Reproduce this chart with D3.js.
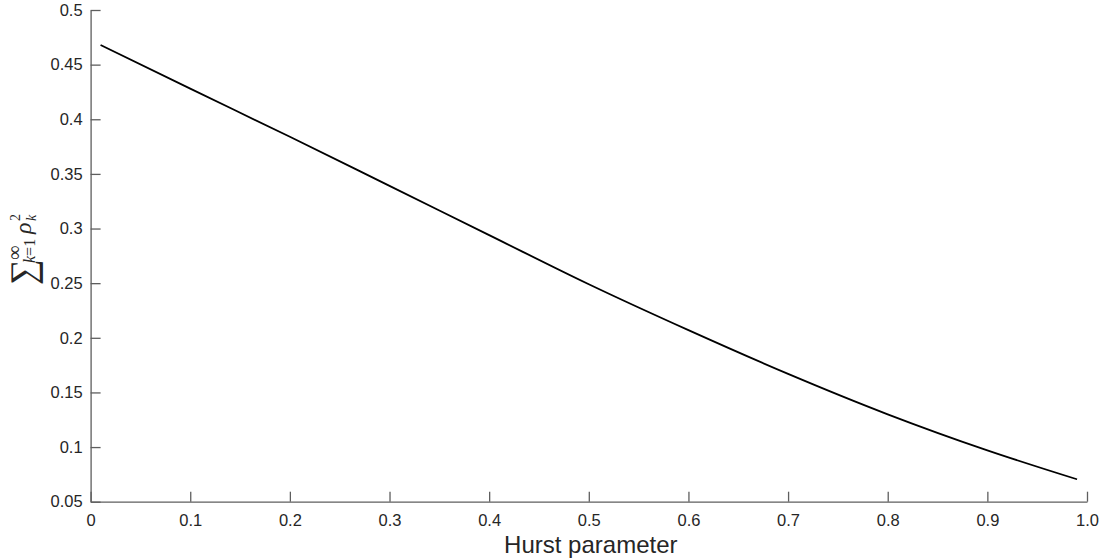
<!DOCTYPE html>
<html>
<head>
<meta charset="utf-8">
<script src="https://cdn.jsdelivr.net/npm/d3@7"></script>
<style>
  body { margin: 0; background: #fff; }
</style>
</head>
<body>
<div id="chart"></div>
<script>
// values
const hurst   = [0.01, 0.1, 0.2, 0.3, 0.4, 0.5, 0.6, 0.7, 0.8, 0.9, 0.99];
const sumRho2 = [0.468, 0.428, 0.384, 0.339, 0.294, 0.249, 0.207, 0.167, 0.130, 0.097, 0.0705];

const xTicks = [0, 0.1, 0.2, 0.3, 0.4, 0.5, 0.6, 0.7, 0.8, 0.9, 1.0];
const xTickLabels = ["0", "0.1", "0.2", "0.3", "0.4", "0.5", "0.6", "0.7", "0.8", "0.9", "1.0"];
const yTicks = [0.05, 0.1, 0.15, 0.2, 0.25, 0.3, 0.35, 0.4, 0.45, 0.5];
const yTickLabels = ["0.05", "0.1", "0.15", "0.2", "0.25", "0.3", "0.35", "0.4", "0.45", "0.5"];

const width = 1104, height = 559;
const margin = {top: 10, right: 17, bottom: 57.3, left: 90.6};

const svg = d3.select("#chart").append("svg")
  .attr("width", width).attr("height", height)
  .style("font-family", "'Liberation Sans', Arial, Helvetica, sans-serif");

const x = d3.scaleLinear()
  .domain([0, 1])
  .range([margin.left, width - margin.right]);

const y = d3.scaleLinear()
  .domain([0.05, 0.5])
  .range([height - margin.bottom, margin.top]);

const tickFont = 16.5;

// bottom axis, ticks pointing inward
svg.append("g")
  .attr("transform", `translate(0,${height - margin.bottom})`)
  .call(d3.axisBottom(x).tickValues(xTicks)
    .tickFormat((d, i) => xTickLabels[i])
    .tickSize(-10).tickPadding(12.4).tickSizeOuter(0))
  .call(g => g.select(".domain").attr("stroke", "#5e5e5e").attr("stroke-width", 1.3))
  .call(g => g.selectAll(".tick line").attr("stroke", "#5e5e5e").attr("stroke-width", 1.3))
  .call(g => g.selectAll("text")
    .attr("fill", "#262626")
    .style("font-size", tickFont + "px")
    .style("font-family", "'Liberation Sans', Arial, sans-serif"));

// left axis
svg.append("g")
  .attr("transform", `translate(${margin.left},0)`)
  .call(d3.axisLeft(y).tickValues(yTicks)
    .tickFormat((d, i) => yTickLabels[i])
    .tickSize(-10).tickPadding(8).tickSizeOuter(0))
  .call(g => g.select(".domain").attr("stroke", "#5e5e5e").attr("stroke-width", 1.3))
  .call(g => g.selectAll(".tick line").attr("stroke", "#5e5e5e").attr("stroke-width", 1.3))
  .call(g => g.selectAll("text")
    .attr("fill", "#262626")
    .style("font-size", tickFont + "px")
    .style("font-family", "'Liberation Sans', Arial, sans-serif"));

// the curve
const line = d3.line()
  .x((d, i) => x(hurst[i]))
  .y(d => y(d))
  .curve(d3.curveMonotoneX);

svg.append("path")
  .datum(sumRho2)
  .attr("fill", "none")
  .attr("stroke", "#000")
  .attr("stroke-width", 1.8)
  .attr("d", line);

// x label
svg.append("text")
  .attr("x", (margin.left + width - margin.right) / 2 + 2)
  .attr("y", 553)
  .attr("text-anchor", "middle")
  .attr("fill", "#262626")
  .style("font-size", "24px")
  .text("Hurst parameter");

// y label: sum_{k=1}^inf rho_k^2, rotated
const ylab = svg.append("g")
  .attr("transform", "translate(30,285) rotate(-90)")
  .attr("fill", "#262626")
  .style("font-family", "'Liberation Serif', 'DejaVu Serif', serif");

ylab.append("text").attr("x", 0).attr("y", 5)
  .style("font-size", "36px").text("\u2211");
ylab.append("text").attr("x", 25).attr("y", -9)
  .style("font-size", "20px").text("\u221E");
const sub = ylab.append("text").attr("x", 22).attr("y", 5)
  .style("font-size", "16px");
sub.append("tspan").style("font-style", "italic").text("k");
sub.append("tspan").text("=1");
ylab.append("text").attr("x", 51).attr("y", 1)
  .style("font-size", "24px").style("font-style", "italic").text("\u03C1");
ylab.append("text").attr("x", 64).attr("y", -10)
  .style("font-size", "14px").text("2");
ylab.append("text").attr("x", 64).attr("y", 6)
  .style("font-size", "14px").style("font-style", "italic").text("k");
</script>
</body>
</html>
